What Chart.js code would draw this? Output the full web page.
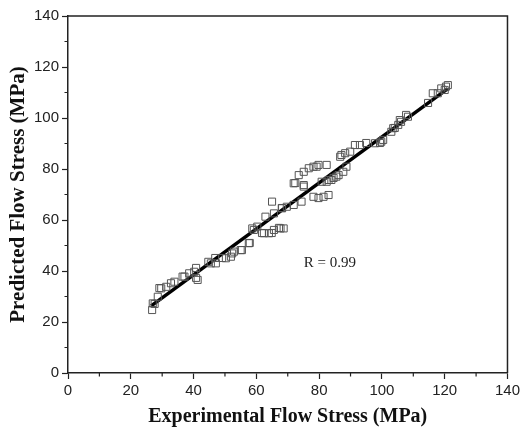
<!DOCTYPE html>
<html>
<head>
<meta charset="utf-8">
<script src="https://cdn.jsdelivr.net/npm/chart.js@4"></script>
<style>
  html, body { margin: 0; padding: 0; background: #fff; }
  #box { width: 523px; height: 435px; }
</style>
</head>
<body>
<div id="box"><canvas id="grafico"></canvas></div>
<script>
// experimental vs predicted flow stress (MPa)
const experimental = [
    26.8, 27.0, 27.6, 28.6, 29.1, 29.7, 31.3, 32.8, 33.9, 36.5,
    37.1, 38.6, 40.2, 40.8, 40.8, 41.3, 44.7, 45.5, 46.9, 47.1,
    49.1, 50.3, 51.9, 52.3, 52.9, 55.0, 55.4, 57.6, 57.9, 58.7,
    59.2, 60.3, 61.8, 62.4, 62.9, 64.0, 64.9, 65.0, 65.6, 65.6,
    67.2, 67.7, 68.1, 68.2, 68.7, 69.7, 71.9, 71.9, 72.4, 73.5,
    74.4, 75.1, 75.1, 75.1, 76.7, 78.2, 78.2, 79.2, 79.8, 79.8,
    80.8, 81.4, 82.4, 82.4, 83.0, 83.0, 83.9, 84.6, 85.5, 86.2,
    86.7, 87.1, 87.7, 88.3, 88.7, 89.9, 91.4, 93.0, 95.0, 97.8,
    99.4, 99.8, 100.4, 103.0, 103.6, 104.1, 105.2, 105.7, 106.1, 107.7,
    108.3, 114.7, 116.2, 117.8, 118.9, 120.0, 120.4, 121.0
];
const predicted = [
    24.7, 27.3, 27.1, 29.9, 33.3, 33.2, 33.8, 35.2, 35.8, 37.8,
    37.8, 39.1, 39.7, 41.2, 37.3, 36.5, 43.6, 43.0, 45.1, 43.0,
    45.1, 45.0, 45.6, 46.9, 47.6, 48.2, 48.2, 50.9, 51.0, 56.7,
    56.1, 57.4, 54.9, 54.8, 61.3, 54.8, 54.9, 67.2, 56.1, 62.6,
    56.9, 56.7, 64.7, 64.6, 56.7, 65.2, 74.4, 65.9, 74.5, 77.6,
    67.2, 78.9, 73.7, 73.1, 80.3, 80.9, 69.1, 80.9, 81.6, 68.6,
    75.0, 69.1, 81.6, 75.0, 69.8, 75.7, 75.7, 76.5, 77.0, 77.6,
    84.8, 85.5, 78.9, 86.2, 80.9, 86.8, 89.4, 89.4, 90.2, 90.1,
    90.2, 90.7, 91.4, 94.6, 96.0, 96.1, 97.3, 99.2, 98.5, 101.2,
    100.5, 105.9, 109.7, 109.7, 111.6, 111.0, 112.3, 112.9
];
// fitted line end points
const ajusteX = [26.5, 121];
const ajusteY = [26.3, 111.5];
const valoresEixo = [0, 20, 40, 60, 80, 100, 120, 140];
const textoR = 'R = 0.99';

const pontos = experimental.map((x, i) => ({ x: x, y: predicted[i] }));
const linha = ajusteX.map((x, i) => ({ x: x, y: ajusteY[i] }));

// minor ticks, frame and the R label
const extras = {
    id: 'extras',
    afterDraw(chart) {
        const ctx = chart.ctx;
        const a = chart.chartArea;
        const sx = chart.scales.x;
        const sy = chart.scales.y;
        ctx.save();
        ctx.strokeStyle = '#222';
        ctx.lineWidth = 1.5;
        ctx.beginPath();
        ctx.moveTo(a.left, a.top);
        ctx.lineTo(a.right, a.top);
        ctx.lineTo(a.right, a.bottom);
        ctx.stroke();
        ctx.lineWidth = 1.2;
        for (let v = 10; v < 140; v += 20) {
            const px = sx.getPixelForValue(v);
            const py = sy.getPixelForValue(v);
            ctx.beginPath();
            ctx.moveTo(px, a.bottom);
            ctx.lineTo(px, a.bottom + 3.5);
            ctx.moveTo(a.left, py);
            ctx.lineTo(a.left - 3.5, py);
            ctx.stroke();
        }
        ctx.fillStyle = '#222';
        ctx.font = '15px "Liberation Serif"';
        ctx.textAlign = 'center';
        ctx.textBaseline = 'middle';
        ctx.fillText(textoR, sx.getPixelForValue(83.4), sy.getPixelForValue(43));
        ctx.restore();
    }
};

const eixo = (titulo, tamanho, espaco) => ({
    type: 'linear',
    min: 0,
    max: 140,
    afterBuildTicks: (s) => { s.ticks = valoresEixo.map(v => ({ value: v })); },
    ticks: {
        color: '#222',
        font: { family: '"Liberation Sans"', size: 15 },
        padding: 3
    },
    grid: {
        drawOnChartArea: false,
        drawTicks: true,
        tickLength: 6,
        tickColor: '#222',
        tickWidth: 1.2
    },
    border: { color: '#222', width: 1.5 },
    title: {
        display: true,
        text: titulo,
        color: '#111',
        font: { family: '"Liberation Serif"', size: tamanho, weight: 'bold' },
        padding: espaco
    }
});

const eixoX = eixo('Experimental Flow Stress (MPa)', 20, { top: 0, bottom: 6 });
eixoX.afterFit = (s) => { s.height = 62; };
const eixoY = eixo('Predicted Flow Stress (MPa)', 21, { top: 6, bottom: 0 });
eixoY.afterFit = (s) => { s.width = 68; };

const canva = document.getElementById('grafico').getContext('2d');
const grafico = new Chart(canva, {
    type: 'scatter',
    data: {
        datasets: [{
            label: 'dados',
            data: pontos,
            pointStyle: 'rect',
            pointRadius: 5,
            borderColor: '#555',
            backgroundColor: 'rgba(255,255,255,0)',
            borderWidth: 1
        }, {
            label: 'ajuste',
            type: 'line',
            data: linha,
            borderColor: '#000',
            borderWidth: 3.5,
            pointRadius: 0,
            fill: false
        }]
    },
    options: {
        responsive: true,
        maintainAspectRatio: false,
        animation: false,
        layout: { padding: { top: 16, right: 13, left: 0, bottom: 0 } },
        plugins: {
            legend: { display: false },
            tooltip: { enabled: false }
        },
        scales: { x: eixoX, y: eixoY }
    },
    plugins: [extras]
});
</script>
</body>
</html>
